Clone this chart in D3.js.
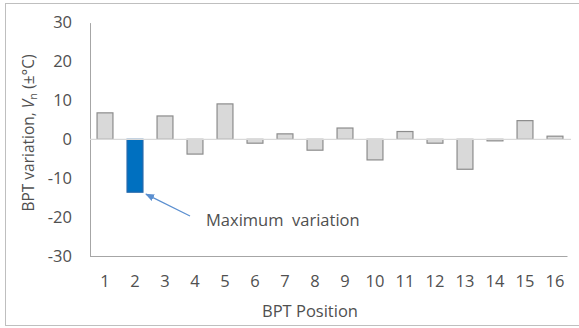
<!DOCTYPE html>
<html><head><meta charset="utf-8">
<script src="https://cdn.jsdelivr.net/npm/d3@7"></script>
<style>body{margin:0;background:#fff}svg{display:block}text{font-family:"Open Sans",sans-serif;fill:#505050}</style>
</head><body>
<svg id="c" width="579" height="328"></svg>
<script>
const positions = ["1","2","3","4","5","6","7","8","9","10","11","12","13","14","15","16"];
const variation = [6.8,-13.6,6.0,-3.8,9.1,-1.0,1.4,-2.8,2.9,-5.3,2.0,-1.0,-7.7,-0.4,4.8,0.8];
const highlight = "2";
const yTicks = [30,20,10,0,-10,-20,-30];
const annotationText = "Maximum  variation";

const svg = d3.select("#c");
svg.append("rect").attr("x",5.5).attr("y",3.5).attr("width",590).attr("height",322)
  .attr("fill","#fff").attr("stroke","#bfbfbf");

const x = d3.scaleBand().domain(positions).range([90,570]).paddingInner(0.47).paddingOuter(0.235);
const y = d3.scaleLinear().domain([-30,30]).range([256,22.6]);

// y axis
const ya = svg.append("g").attr("transform","translate(90,0)")
  .call(d3.axisLeft(y).tickValues(yTicks).tickFormat(d=>String(d)).tickSize(0).tickPadding(18));
ya.select(".domain").attr("stroke","#a6a6a6");
ya.selectAll("text").style("font-size","16.5px").style("fill","#505050");

// bottom axis line at -30
svg.append("line").attr("x1",90).attr("x2",567.5).attr("y1",y(-30)+0.5).attr("y2",y(-30)+0.5).attr("stroke","#a6a6a6");

// x labels
const xa = svg.append("g").attr("transform",`translate(0,${y(-30)})`)
  .call(d3.axisBottom(x).tickSize(0).tickPadding(19));
xa.select(".domain").remove();
xa.selectAll("text").style("font-size","16.5px").style("fill","#505050");

// bars
svg.append("g").selectAll("rect").data(positions).join("rect")
  .attr("x",d=>x(d)).attr("width",x.bandwidth())
  .attr("y",(d,i)=>y(Math.max(0,variation[i])))
  .attr("height",(d,i)=>Math.abs(y(variation[i])-y(0)))
  .attr("fill",d=>d===highlight?"#0070c0":"#d9d9d9")
  .attr("stroke",d=>d===highlight?"#2266aa":"#8c8c8c")
  .attr("stroke-width",1.2);

// zero line
svg.append("line").attr("x1",90).attr("x2",571).attr("y1",y(0)).attr("y2",y(0)).attr("stroke","#d9d9d9").attr("stroke-width",1.2);

// axis titles
svg.append("text").attr("transform","translate(34,133) rotate(-90)").attr("text-anchor","middle")
  .style("font-size","15.5px")
  .html('BPT variation, <tspan font-style="italic">V</tspan><tspan font-size="11px" dy="3">n</tspan><tspan dy="-3"> (±°C)</tspan>');
svg.append("text").attr("x",310).attr("y",317).attr("text-anchor","middle").style("font-size","16.5px").text("BPT Position");

// annotation
const hi = positions.indexOf(highlight);
const tipX = x(highlight)+x.bandwidth()+3, tipY = y(variation[hi])+2;
svg.append("defs").append("marker").attr("id","ah").attr("viewBox","0 0 10 10").attr("refX",9).attr("refY",5)
  .attr("markerWidth",7).attr("markerHeight",7).attr("orient","auto-start-reverse")
  .append("path").attr("d","M0,1 L10,5 L0,9 z").attr("fill","#5b8fd0");
svg.append("line").attr("x1",190).attr("y1",216).attr("x2",tipX).attr("y2",tipY)
  .attr("stroke","#5b8fd0").attr("stroke-width",1.3).attr("marker-end","url(#ah)");
svg.append("text").attr("x",206).attr("y",226).style("font-size","16.5px").style("white-space","pre").text(annotationText);
</script>
</body></html>
